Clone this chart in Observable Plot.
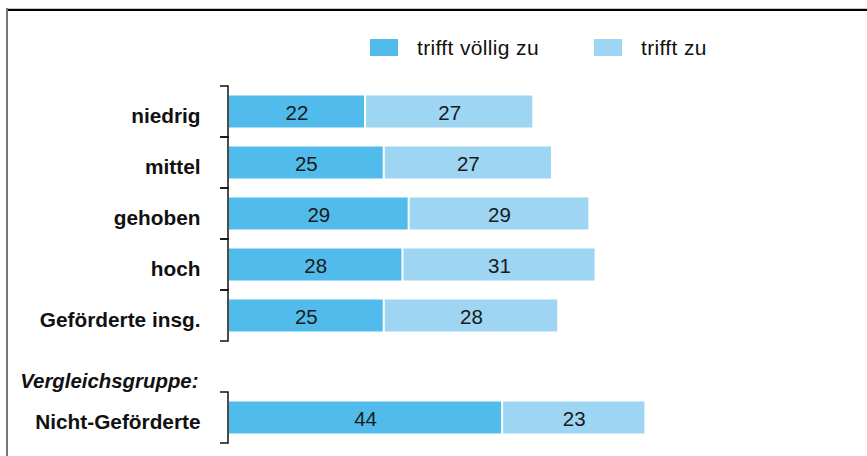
<!DOCTYPE html>
<html><head><meta charset="utf-8">
<script src="https://cdn.jsdelivr.net/npm/d3@7"></script>
<script src="https://cdn.jsdelivr.net/npm/@observablehq/plot@0.6"></script>
<style>
html,body{margin:0;padding:0;background:#fff;width:867px;height:456px;overflow:hidden;font-family:"Liberation Sans",Arial,sans-serif;}
#wrap{position:relative;width:867px;height:456px;}
#legend{position:relative;height:70px;}
.sw{position:absolute;top:39px;width:28px;height:17px;}
.lt{position:absolute;top:37px;font-size:21px;line-height:21px;letter-spacing:0.35px;color:#111;white-space:nowrap;}
.fr{position:absolute;pointer-events:none;}
</style>
</head><body>
<div id="wrap">
  <div id="legend"></div>
  <div id="chart"></div>
  <div class="fr" style="left:6px;top:8px;right:0;height:1px;background:#c8c8c8"></div>
  <div class="fr" style="left:6px;top:9px;right:0;height:2px;background:#000"></div>
  <div class="fr" style="left:6px;top:8px;width:2px;bottom:0;background:#777"></div>
</div>
<script>
const categories = ["niedrig", "mittel", "gehoben", "hoch", "Geförderte insg.", "Nicht-Geförderte"];
const groupLabel = "Vergleichsgruppe:";
const seriesNames = ["trifft völlig zu", "trifft zu"];
const trifftVoelligZu = [22, 25, 29, 28, 25, 44];
const trifftZu = [27, 27, 29, 31, 28, 23];
const colors = ["#51bceb", "#9dd5f2"];

const rowDomain = [...categories.slice(0, 5), groupLabel, categories[5]];
const seriesValues = [trifftVoelligZu, trifftZu];
const data = [];
categories.forEach((c, i) => {
  seriesNames.forEach((s, j) => data.push({cat: c, series: s, value: seriesValues[j][i]}));
});

// Legend (HTML above the SVG)
const legend = document.getElementById("legend");
const legendPos = [{sw: 370, tx: 417}, {sw: 594, tx: 641}];
seriesNames.forEach((s, j) => {
  const sw = document.createElement("div");
  sw.className = "sw"; sw.style.left = legendPos[j].sw + "px"; sw.style.background = colors[j];
  const t = document.createElement("div");
  t.className = "lt"; t.style.left = legendPos[j].tx + "px"; t.textContent = s;
  legend.appendChild(sw); legend.appendChild(t);
});

const chart = Plot.plot({
  width: 867,
  height: 386,
  marginTop: 15.5,
  marginBottom: 13.5,
  marginLeft: 228,
  marginRight: 16,
  x: {domain: [0, 100], axis: null},
  y: {domain: rowDomain, padding: 0, axis: null},
  color: {domain: seriesNames, range: colors},
  style: {fontFamily: "Liberation Sans, Arial, sans-serif", background: "transparent", overflow: "visible"},
  marks: [
    Plot.barX(data, Plot.stackX({x: "value", y: "cat", fill: "series", insetTop: 9.5, insetBottom: 9.5, insetLeft: 1, insetRight: 1})),
    Plot.text(data, Plot.stackX({x: "value", y: "cat", z: "series", text: "value", fill: "#1a1a1a", fontSize: 20.5, dy: 1.8})),
    Plot.barX(categories, {x1: () => 0, x2: () => 0, y: d => d, fill: "none", stroke: "#111", strokeWidth: 1.5, insetLeft: -8, strokeDasharray: "67 51"}),
    Plot.text(categories, {y: d => d, text: d => d, frameAnchor: "left", dx: -28, textAnchor: "end", fontWeight: "bold", fontSize: 20.8, fill: "#111", dy: 4}),
    Plot.text([groupLabel], {y: d => d, text: d => d, frameAnchor: "left", dx: -30, textAnchor: "end", fontWeight: "bold", fontStyle: "italic", fontSize: 20.4, fill: "#111", dy: 14})
  ]
});
document.getElementById("chart").appendChild(chart);
</script>
</body></html>
